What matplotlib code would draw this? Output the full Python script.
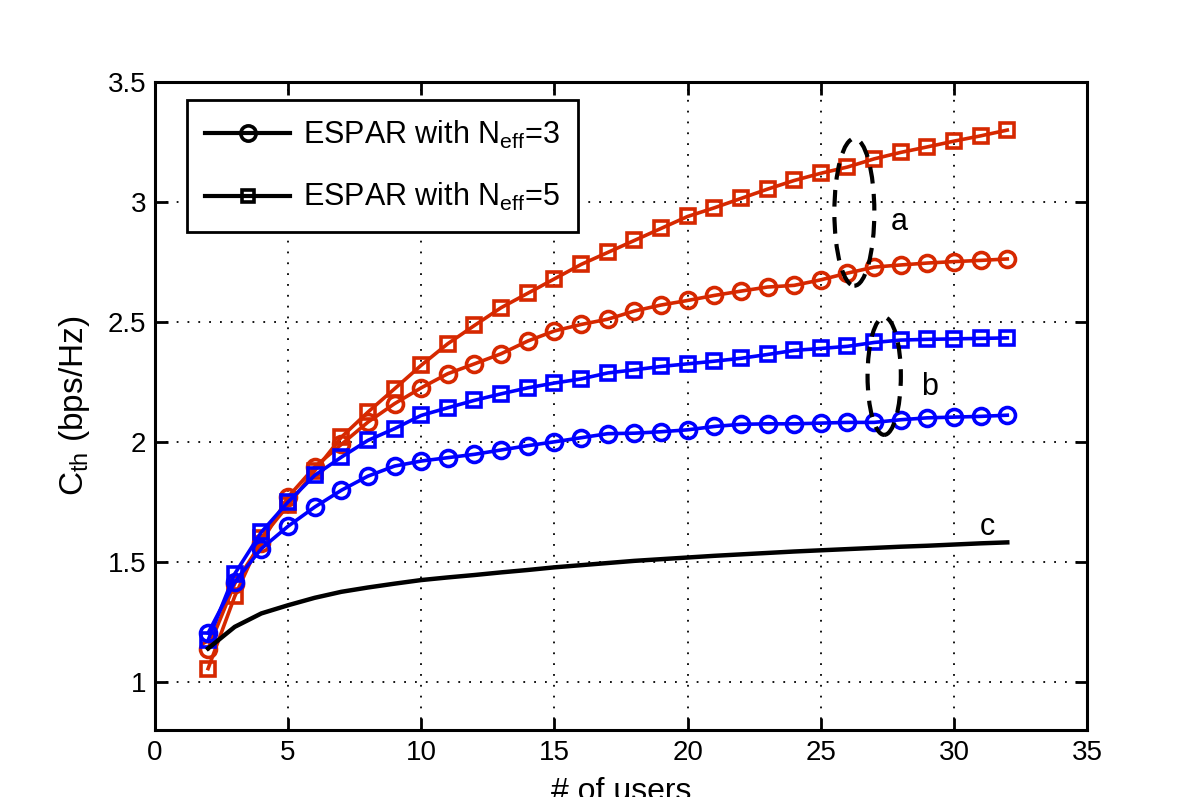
import numpy as np
import matplotlib
matplotlib.use('Agg')
import matplotlib.pyplot as plt
from matplotlib.patches import Ellipse
from matplotlib.lines import Line2D

# * ----- Data ----------------------------------------------------------------
users = list(range(2, 33))

# group a (red)
red_neff3 = [1.139, 1.41, 1.58, 1.771, 1.896, 1.99, 2.083, 2.16, 2.226, 2.285,
             2.326, 2.368, 2.421, 2.463, 2.490, 2.512, 2.546, 2.571, 2.590, 2.611,
             2.629, 2.646, 2.653, 2.676, 2.704, 2.729, 2.738, 2.746, 2.752, 2.757, 2.763]
red_neff5 = [1.056, 1.357, 1.60, 1.736, 1.88, 2.02, 2.125, 2.222, 2.32, 2.41,
             2.486, 2.56, 2.62, 2.68, 2.74, 2.79, 2.84, 2.89, 2.94, 2.976,
             3.015, 3.054, 3.09, 3.12, 3.146, 3.18, 3.207, 3.23, 3.254, 3.276, 3.30]

# group b (blue)
blue_neff3 = [1.204, 1.417, 1.556, 1.649, 1.729, 1.799, 1.858, 1.90, 1.921, 1.935,
              1.949, 1.967, 1.985, 2.001, 2.018, 2.035, 2.037, 2.043, 2.051, 2.065,
              2.074, 2.076, 2.076, 2.079, 2.082, 2.082, 2.093, 2.101, 2.104, 2.107, 2.112]
blue_neff5 = [1.174, 1.451, 1.625, 1.75, 1.861, 1.937, 2.007, 2.056, 2.111, 2.143,
              2.174, 2.201, 2.226, 2.246, 2.263, 2.288, 2.301, 2.315, 2.326, 2.337,
              2.349, 2.365, 2.382, 2.390, 2.399, 2.415, 2.425, 2.428, 2.430, 2.432, 2.434]

# curve c (black, no markers)
black_c = [1.14, 1.23, 1.286, 1.32, 1.351, 1.376, 1.394, 1.41, 1.425, 1.436,
           1.446, 1.457, 1.467, 1.478, 1.487, 1.496, 1.505, 1.512, 1.519, 1.526,
           1.532, 1.538, 1.544, 1.549, 1.554, 1.559, 1.564, 1.568, 1.573, 1.578, 1.582]

legend_labels = ['ESPAR with N$_{\\mathregular{eff}}$=3', 'ESPAR with N$_{\\mathregular{eff}}$=5']
x_ticks = [0, 5, 10, 15, 20, 25, 30, 35]
y_ticks = [1, 1.5, 2, 2.5, 3, 3.5]

RED = '#D62800'
BLUE = '#0000FF'

# * ----- Plot ----------------------------------------------------------------
plt.rcParams['font.family'] = ['Liberation Sans', 'DejaVu Sans']
plt.rcParams['mathtext.fontset'] = 'custom'
plt.rcParams['mathtext.rm'] = 'Liberation Sans'

fig = plt.figure(figsize=(12, 7.97), dpi=100)
ax = fig.add_axes([0.129, 0.084, 0.777, 0.813])

line_kw = dict(linewidth=2.6, markerfacecolor='none', markeredgewidth=2.6)
ax.plot(users, red_neff5, color=RED, marker='s', markersize=9.5, **line_kw)
ax.plot(users, red_neff3, color=RED, marker='o', markersize=11.5, **line_kw)
ax.plot(users, blue_neff5, color=BLUE, marker='s', markersize=9.5, **line_kw)
ax.plot(users, blue_neff3, color=BLUE, marker='o', markersize=11.5, **line_kw)
ax.plot(users, black_c, color='black', linewidth=3.2)

# dashed ellipses grouping curves
ax.add_patch(Ellipse((26.26, 2.958), 1.5, 0.613, fill=False, edgecolor='black',
                     linestyle=(0, (4, 2.5)), linewidth=3, zorder=5))
ax.add_patch(Ellipse((27.38, 2.275), 1.25, 0.49, fill=False, edgecolor='black',
                     linestyle=(0, (4, 2.5)), linewidth=3, zorder=5))
ax.text(27.94, 2.918, 'a', fontsize=22, ha='center', va='center')
ax.text(29.07, 2.23, 'b', fontsize=22, ha='center', va='center')
ax.text(31.25, 1.646, 'c', fontsize=22, ha='center', va='center')

ax.set_xlim(0, 35)
ax.set_ylim(0.8, 3.5)
ax.set_xticks(x_ticks)
ax.set_yticks(y_ticks)
ax.set_yticklabels(['1', '1.5', '2', '2.5', '3', '3.5'])
ax.tick_params(direction='in', length=9, width=2, top=True, right=True,
               labelsize=20)
ax.tick_params(axis='x', pad=7)
ax.tick_params(axis='y', pad=6)
for sp in ax.spines.values():
    sp.set_linewidth(2.2)
ax.grid(True, color='black', linestyle=(0, (1, 5)), linewidth=1.3)

ax.set_xlabel('# of users', fontsize=23)
ax.xaxis.set_label_coords(0.5, -0.073)
ax.set_ylabel('C$_{\\mathregular{th}}$ (bps/Hz)', fontsize=24)
ax.yaxis.set_label_coords(-0.0675, 0.5)

handles = [Line2D([], [], color='black', linewidth=3, marker='o', markersize=11,
                  markerfacecolor='none', markeredgewidth=2.6),
           Line2D([], [], color='black', linewidth=3, marker='s', markersize=9,
                  markerfacecolor='none', markeredgewidth=2.6)]
leg = ax.legend(handles, legend_labels, loc='upper left', bbox_to_anchor=(0.034, 0.972),
                fontsize=22, frameon=True, fancybox=False, edgecolor='black',
                framealpha=1, handlelength=2.8, handletextpad=0.4, borderpad=0.6,
                labelspacing=1.0, borderaxespad=0)
leg.get_frame().set_linewidth(2)

# MATLAB-style legend box carries extra room on the right
fig.canvas.draw()
frame = leg.get_frame()
frame.set_width(frame.get_width() + 22)

fig.savefig('out.png', dpi=100)
